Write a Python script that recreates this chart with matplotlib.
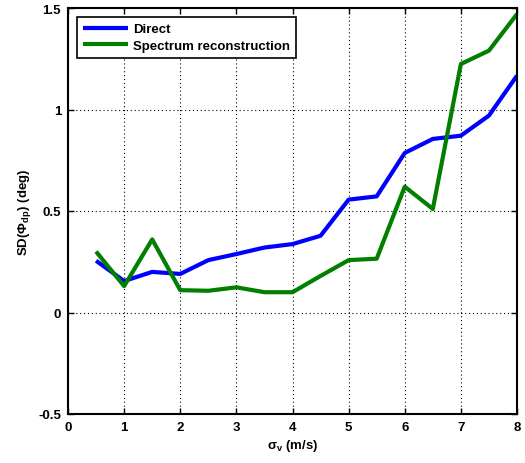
import matplotlib
matplotlib.use("Agg")
import matplotlib.pyplot as plt

plt.rcParams['font.family'] = ['Liberation Sans', 'DejaVu Sans']
plt.rcParams['font.weight'] = 'bold'
plt.rcParams['mathtext.fontset'] = 'custom'
plt.rcParams['mathtext.rm'] = 'Liberation Sans:bold'
plt.rcParams['mathtext.it'] = 'Liberation Sans:bold'
plt.rcParams['mathtext.bf'] = 'Liberation Sans:bold'

sigma_v = [0.5, 1.0, 1.5, 2.0, 2.5, 3.0, 3.5, 4.0, 4.5, 5.0, 5.5, 6.0, 6.5, 7.0, 7.5, 8.0]
direct = [0.255, 0.155, 0.20, 0.19, 0.258, 0.288, 0.32, 0.337, 0.378, 0.556, 0.572, 0.786, 0.855, 0.871, 0.97, 1.167]
spectrum = [0.30, 0.13, 0.36, 0.11, 0.107, 0.124, 0.10, 0.10, 0.18, 0.258, 0.265, 0.62, 0.51, 1.224, 1.29, 1.47]

xticks = [0, 1, 2, 3, 4, 5, 6, 7, 8]
yticks = [-0.5, 0, 0.5, 1, 1.5]
yticklabels = ['-0.5', '0', '0.5', '1', '1.5']

fs = 9.5
fig = plt.figure(figsize=(5.25, 4.64), dpi=100)
ax = fig.add_axes([68/525, 1 - 415/464, (517-68)/525, (415-9)/464])

ax.plot(sigma_v, direct, color='#0000ff', lw=3, label='Direct', solid_capstyle='butt')
ax.plot(sigma_v, spectrum, color='#007f00', lw=3, label='Spectrum reconstruction', solid_capstyle='butt')

ax.set_xlim(0, 8)
ax.set_ylim(-0.5, 1.5)
ax.set_xticks(xticks)
ax.set_yticks(yticks)
ax.set_yticklabels(yticklabels)
ax.tick_params(direction='in', top=True, right=True, length=4, width=1, labelsize=fs, pad=5)
for s in ax.spines.values():
    s.set_linewidth(1.5)
ax.grid(True, color='black', linestyle=(0, (1, 2.5)), linewidth=0.8)

ax.set_xlabel(r'$\sigma_\mathrm{v}$ (m/s)', fontsize=fs, fontweight='bold', labelpad=3)
ax.set_ylabel(r'SD($\Phi_\mathrm{dp}$) (deg)', fontsize=fs, fontweight='bold', labelpad=4)

leg = ax.legend(loc='upper left', fontsize=fs, frameon=True, fancybox=False,
                edgecolor='black', handlelength=3.4, borderaxespad=0.7,
                labelspacing=0.3, borderpad=0.45, handletextpad=0.4)
leg.get_frame().set_linewidth(1.2)
leg.get_frame().set_alpha(1)

fig.savefig('out.png', dpi=100)
